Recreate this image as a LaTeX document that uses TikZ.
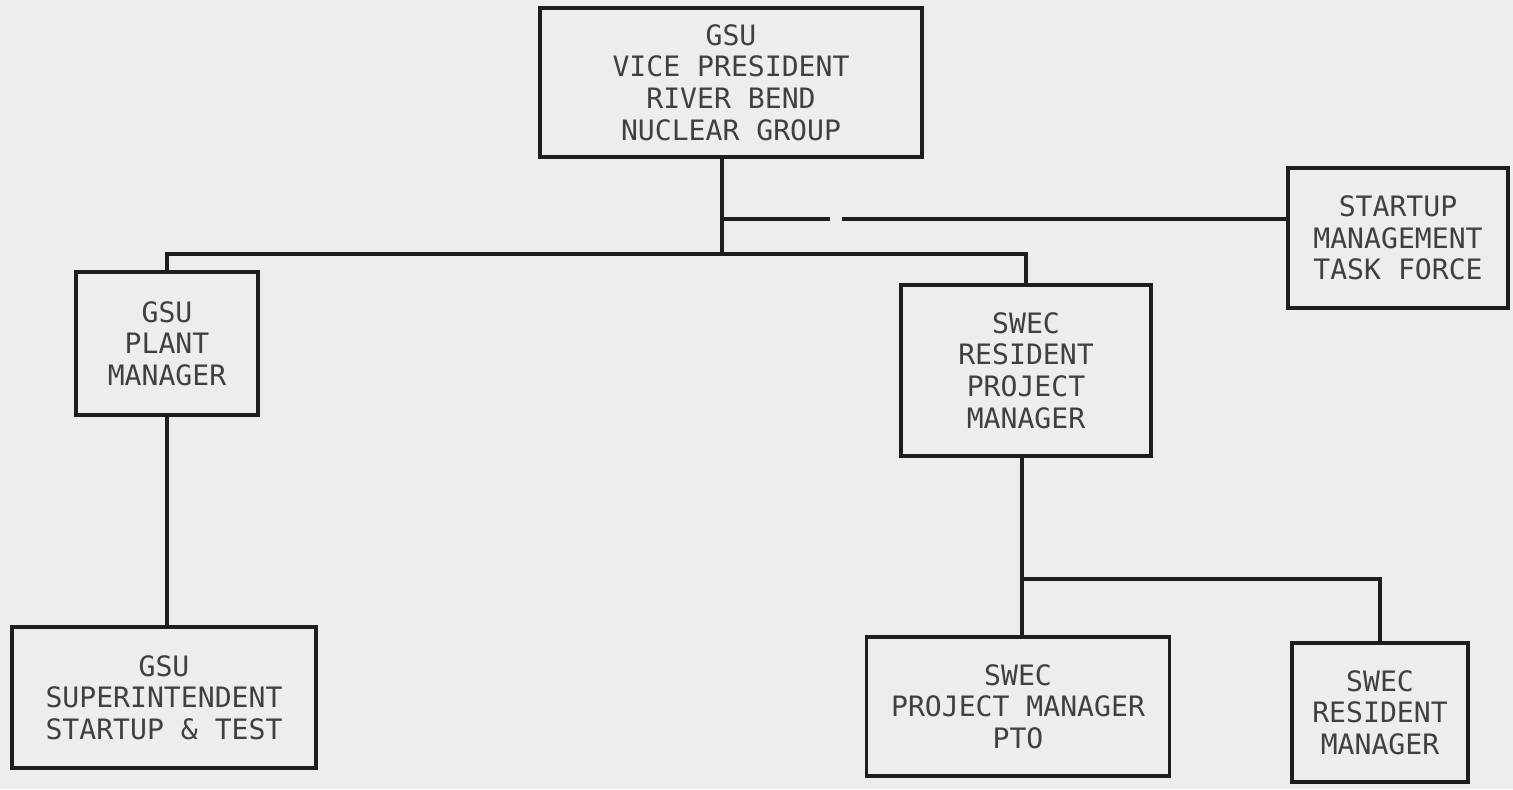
\documentclass[tikz,border=0pt]{standalone}
\usepackage{fontspec}
\newfontfamily\typefont{DejaVu Sans Mono}
\usetikzlibrary{positioning}
\definecolor{paper}{HTML}{EDEDED}
\definecolor{ink}{HTML}{1E1E1E}

\begin{document}
\begin{tikzpicture}[x=0.02cm,y=-0.02cm,
 box/.style={draw=ink,line width=2pt,fill=paper,align=center,inner sep=0pt,
   font=\typefont\fontsize{16}{18}\selectfont,text=ink!85},
 wire/.style={draw=ink,line width=2pt}]
\fill[paper] (0,0) rectangle (1513,789);
\useasboundingbox (0,0) rectangle (1513,789);
\node[box,minimum width=382*0.02cm,minimum height=149*0.02cm] (vp) at (731,82.5) {GSU\\VICE PRESIDENT\\RIVER BEND\\NUCLEAR GROUP};
\node[box,minimum width=220*0.02cm,minimum height=140*0.02cm] (task) at (1398,238) {STARTUP\\MANAGEMENT\\TASK FORCE};
\node[box,minimum width=182*0.02cm,minimum height=143*0.02cm] (plant) at (167,343.5) {GSU\\PLANT\\MANAGER};
\node[box,minimum width=250*0.02cm,minimum height=171*0.02cm] (rpm) at (1026,370.5) {SWEC\\RESIDENT\\PROJECT\\MANAGER};
\node[box,minimum width=304*0.02cm,minimum height=141*0.02cm] (super) at (164,697.5) {GSU\\SUPERINTENDENT\\STARTUP \& TEST};
\node[box,minimum width=303*0.02cm,minimum height=139*0.02cm] (pto) at (1018,706.5) {SWEC\\PROJECT MANAGER\\PTO};
\node[box,minimum width=176*0.02cm,minimum height=139*0.02cm] (resmgr) at (1380,712.5) {SWEC\\RESIDENT\\MANAGER};
% trunk and the broken line to the task force
\coordinate (bus) at (722,254);
\coordinate (tee) at (722,219);
\coordinate (gapL) at (830,219);
\coordinate (gapR) at (842,219);
\draw[wire] (vp.south -| bus) -- (bus);
\draw[wire] (tee) -- (gapL);
\draw[wire] (gapR) -- (gapR -| task.west);
\draw[wire] (plant.north) |- (bus) -| (rpm.north);
\draw[wire] (plant.south) -- (plant.south |- super.north);
% SWEC branch
\coordinate (split) at (1022,579);
\draw[wire] (rpm.south -| split) -- (split |- pto.north);
\draw[wire] (split) -| (resmgr.north);
\end{tikzpicture}
\end{document}
